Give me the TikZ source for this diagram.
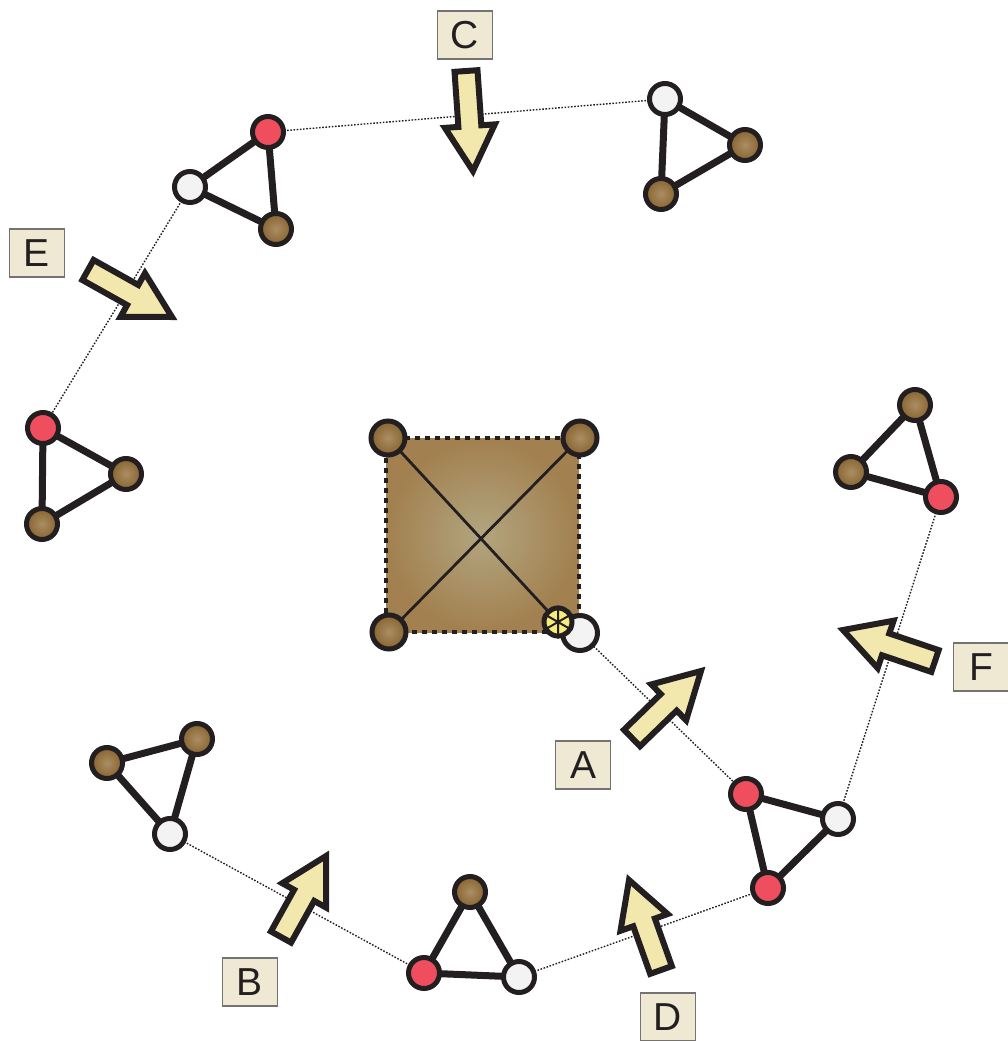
\documentclass[tikz,border=0pt]{standalone}
\usepackage{fontspec}
\setmainfont{Liberation Sans}
\usetikzlibrary{calc}
\pgfdeclarelayer{bg}
\pgfsetlayers{bg,main}

\definecolor{nodered}{HTML}{EF4E5E}
\definecolor{nodewhite}{HTML}{F3F3F3}
\definecolor{inkk}{HTML}{231F20}
\definecolor{brownin}{HTML}{AA8E64}
\definecolor{brownout}{HTML}{88632F}
\definecolor{sqin}{HTML}{B2A57F}
\definecolor{sqout}{HTML}{A2804F}
\definecolor{arrowfill}{HTML}{F2E8AE}
\definecolor{labelfill}{HTML}{EFE8D2}
\definecolor{starfill}{HTML}{F7EC7A}

\tikzset{
  vtx/.style={circle, minimum size=31pt, inner sep=0pt, line width=5pt, draw=inkk},
  redv/.style={vtx, fill=nodered},
  whitev/.style={vtx, fill=nodewhite},
  brownv/.style={vtx, inner color=brownin, outer color=brownout},
  cornerv/.style={vtx, minimum size=34pt, inner color=brownin, outer color=brownout},
  starv/.style={vtx, minimum size=28pt, fill=starfill},
  tedge/.style={line width=7pt, draw=inkk},
  diag/.style={line width=2.8pt, draw=inkk},
  link/.style={line width=1.4pt, draw=inkk, dash pattern=on 1.6pt off 1.6pt},
  lbl/.style={draw=black!55, line width=1.2pt, fill=labelfill, minimum width=55pt,
    minimum height=48pt, inner sep=0pt, text=inkk, font=\fontsize{39}{40}\selectfont},
  barrow/.style={draw=inkk, line width=6pt, fill=arrowfill, line join=miter, miter limit=10},
}

\newcommand{\blockarr}[3]{%
  \coordinate (#1t) at (#2);
  \coordinate (#1p) at (#3);
  \coordinate (#1h) at ($(#1p)!45pt!(#1t)$);
  \draw[barrow] ($(#1t)!11.5pt!90:(#1p)$) -- ($(#1h)!11.5pt!90:(#1p)$) -- ($(#1h)!25pt!90:(#1p)$)
    -- (#1p) -- ($(#1h)!25pt!-90:(#1p)$) -- ($(#1h)!11.5pt!-90:(#1p)$) -- ($(#1t)!11.5pt!-90:(#1p)$) -- cycle;}

\begin{document}
\begin{tikzpicture}[x=1pt, y=-1pt]
\useasboundingbox (0,0) rectangle (1007,1041);

% central square corners and marks
\node[cornerv] (ctl) at (388,438) {};
\node[cornerv] (ctr) at (580,438) {};
\node[cornerv] (cbl) at (389,632) {};
\coordinate (cbr) at (579,632);
\node[vtx, minimum size=35pt, fill=nodewhite] (sqw) at (580,633) {};
\node[starv] (star) at (558,622) {};
\draw[inkk, line width=2pt] (star.90) -- (star.270) (star.30) -- (star.210) (star.150) -- (star.330);

% triangle 1 (top left)
\node[redv] (t1r) at (268,132) {};
\node[whitev] (t1w) at (190,187) {};
\node[brownv] (t1b) at (276,229) {};
% triangle 2 (top right)
\node[whitev] (t2w) at (665,99) {};
\node[brownv] (t2a) at (745,145) {};
\node[brownv] (t2b) at (661,194) {};
% triangle 3 (left)
\node[redv] (t3r) at (43,428) {};
\node[brownv] (t3a) at (126,474) {};
\node[brownv] (t3b) at (42,524) {};
% triangle 4 (right)
\node[brownv] (t4a) at (915,405) {};
\node[brownv] (t4b) at (851,472) {};
\node[redv] (t4r) at (941,497) {};
% triangle 5 (lower right)
\node[redv] (t5r) at (746,794) {};
\node[whitev] (t5w) at (838,819) {};
\node[redv] (t5s) at (768,888) {};
% triangle 6 (bottom)
\node[brownv] (t6b) at (470,892) {};
\node[redv] (t6r) at (424,973) {};
\node[whitev] (t6w) at (519,977) {};
% triangle 7 (lower left)
\node[brownv] (t7a) at (197,739) {};
\node[brownv] (t7b) at (107,763) {};
\node[whitev] (t7w) at (170,834) {};

\begin{pgfonlayer}{bg}
  \path[inner color=sqin, outer color=sqout] (ctl.center -| 386,0) rectangle (cbr);
  \draw[inkk, line width=4.5pt, dash pattern=on 5pt off 5pt] (386,438) rectangle (cbr);
  \draw[diag] (ctl.center) -- (star.center);
  \draw[diag] (ctr.center) -- (cbl.center);
  \draw[link] (t1r.center) -- (t2w.center);
  \draw[link] (t1w.center) -- (t3r.center);
  \draw[link] (sqw.center) -- (t5r.center);
  \draw[link] (t5w.center) -- (t4r.center);
  \draw[link] (t5s.center) -- (t6w.center);
  \draw[link] (t6r.center) -- (t7w.center);
  \draw[tedge] (t1r.center) -- (t1w.center) -- (t1b.center) -- cycle;
  \draw[tedge] (t2w.center) -- (t2a.center) -- (t2b.center) -- cycle;
  \draw[tedge] (t3r.center) -- (t3a.center) -- (t3b.center) -- cycle;
  \draw[tedge] (t4a.center) -- (t4b.center) -- (t4r.center) -- cycle;
  \draw[tedge] (t5r.center) -- (t5w.center) -- (t5s.center) -- cycle;
  \draw[tedge] (t6b.center) -- (t6r.center) -- (t6w.center) -- cycle;
  \draw[tedge] (t7a.center) -- (t7b.center) -- (t7w.center) -- cycle;
\end{pgfonlayer}

% block arrows
\blockarr{aC}{466,71}{473,171}
\blockarr{aE}{88,270}{172,317}
\blockarr{aA}{632,738}{701,671}
\blockarr{aF}{935,661}{843,630}
\blockarr{aB}{281,937}{326,856}
\blockarr{aD}{661,970}{629,880}

% labels
\node[lbl] (lC) at (465,35) {C};
\node[lbl] (lE) at (37,253) {E};
\node[lbl] (lA) at (583,765) {A};
\node[lbl] (lF) at (981,667) {F};
\node[lbl] (lB) at (250,982) {B};
\node[lbl] (lD) at (668,1017) {D};
\end{tikzpicture}
\end{document}
